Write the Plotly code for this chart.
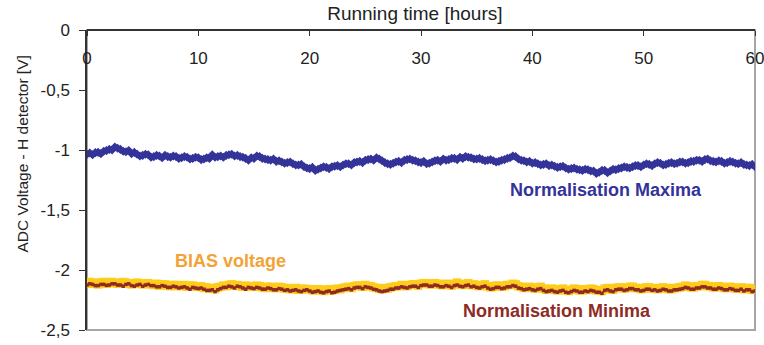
import plotly.graph_objects as go

# Sampling grid: one reading every quarter hour over the 60 h run
hours = [i * 0.25 for i in range(241)]

# Normalisation maxima (H detector, V), 20 readings per row = 5 h
maxima = [
    -1.035, -1.025, -1.040, -1.022, -1.020, -1.030, -1.010, -1.005, -0.995, -1.000,
    -0.975, -0.985, -0.995, -1.010, -1.015, -1.005, -1.030, -1.020, -1.035, -1.050,
    -1.045, -1.035, -1.040, -1.060, -1.055, -1.045, -1.050, -1.065, -1.045, -1.055,
    -1.060, -1.050, -1.055, -1.070, -1.065, -1.055, -1.060, -1.075, -1.070, -1.060,
    -1.065, -1.080, -1.075, -1.065, -1.070, -1.040, -1.060, -1.055, -1.050, -1.060,
    -1.045, -1.040, -1.035, -1.050, -1.045, -1.055, -1.060, -1.070, -1.085, -1.065,
    -1.070, -1.050, -1.055, -1.070, -1.075, -1.080, -1.085, -1.075, -1.095, -1.090,
    -1.100, -1.110, -1.105, -1.100, -1.115, -1.125, -1.125, -1.120, -1.140, -1.150,
    -1.155, -1.145, -1.170, -1.160, -1.150, -1.140, -1.145, -1.155, -1.140, -1.135,
    -1.130, -1.140, -1.125, -1.115, -1.115, -1.125, -1.105, -1.100, -1.095, -1.105,
    -1.085, -1.080, -1.075, -1.085, -1.065, -1.075, -1.090, -1.105, -1.115, -1.120,
    -1.110, -1.100, -1.095, -1.105, -1.085, -1.080, -1.075, -1.085, -1.090, -1.100,
    -1.105, -1.095, -1.115, -1.110, -1.100, -1.090, -1.085, -1.095, -1.075, -1.085,
    -1.080, -1.070, -1.070, -1.080, -1.060, -1.070, -1.055, -1.060, -1.065, -1.075,
    -1.075, -1.070, -1.080, -1.090, -1.085, -1.080, -1.090, -1.100, -1.095, -1.085,
    -1.080, -1.070, -1.065, -1.050, -1.055, -1.075, -1.085, -1.090, -1.100, -1.095,
    -1.110, -1.105, -1.115, -1.125, -1.120, -1.115, -1.130, -1.125, -1.135, -1.145,
    -1.140, -1.135, -1.150, -1.160, -1.155, -1.150, -1.160, -1.165, -1.170, -1.160,
    -1.165, -1.175, -1.175, -1.195, -1.185, -1.170, -1.170, -1.190, -1.175, -1.160,
    -1.165, -1.155, -1.150, -1.140, -1.145, -1.150, -1.140, -1.130, -1.130, -1.140,
    -1.125, -1.115, -1.120, -1.130, -1.115, -1.105, -1.110, -1.125, -1.120, -1.110,
    -1.105, -1.115, -1.110, -1.100, -1.100, -1.110, -1.105, -1.095, -1.095, -1.085,
    -1.085, -1.095, -1.080, -1.075, -1.090, -1.095, -1.100, -1.090, -1.095, -1.110,
    -1.105, -1.095, -1.100, -1.110, -1.115, -1.105, -1.120, -1.125, -1.130, -1.120,
    -1.140,
]

# Normalisation minima (V)
minima = [
    -2.125, -2.115, -2.120, -2.130, -2.130, -2.120, -2.120, -2.128, -2.125, -2.115,
    -2.115, -2.125, -2.125, -2.135, -2.120, -2.115, -2.130, -2.135, -2.125, -2.120,
    -2.135, -2.125, -2.120, -2.130, -2.130, -2.140, -2.140, -2.130, -2.135, -2.145,
    -2.145, -2.135, -2.140, -2.150, -2.145, -2.140, -2.150, -2.160, -2.145, -2.150,
    -2.155, -2.150, -2.160, -2.170, -2.170, -2.165, -2.180, -2.165, -2.155, -2.145,
    -2.145, -2.135, -2.140, -2.150, -2.135, -2.140, -2.150, -2.160, -2.145, -2.150,
    -2.155, -2.145, -2.150, -2.160, -2.160, -2.150, -2.155, -2.165, -2.165, -2.155,
    -2.160, -2.170, -2.165, -2.175, -2.170, -2.165, -2.175, -2.180, -2.170, -2.165,
    -2.175, -2.185, -2.180, -2.175, -2.185, -2.190, -2.180, -2.175, -2.190, -2.185,
    -2.175, -2.170, -2.165, -2.160, -2.155, -2.165, -2.150, -2.145, -2.145, -2.155,
    -2.140, -2.145, -2.150, -2.160, -2.165, -2.175, -2.180, -2.175, -2.170, -2.160,
    -2.160, -2.150, -2.150, -2.140, -2.145, -2.150, -2.140, -2.135, -2.135, -2.145,
    -2.130, -2.125, -2.125, -2.135, -2.135, -2.125, -2.130, -2.140, -2.140, -2.130,
    -2.135, -2.145, -2.130, -2.125, -2.135, -2.140, -2.130, -2.125, -2.140, -2.135,
    -2.145, -2.150, -2.140, -2.135, -2.150, -2.160, -2.155, -2.145, -2.145, -2.155,
    -2.150, -2.140, -2.140, -2.130, -2.135, -2.150, -2.155, -2.165, -2.160, -2.155,
    -2.165, -2.170, -2.160, -2.155, -2.170, -2.180, -2.175, -2.170, -2.180, -2.185,
    -2.175, -2.170, -2.185, -2.190, -2.180, -2.170, -2.175, -2.185, -2.185, -2.175,
    -2.180, -2.170, -2.175, -2.185, -2.185, -2.195, -2.170, -2.165, -2.175, -2.180,
    -2.165, -2.160, -2.160, -2.170, -2.165, -2.155, -2.155, -2.165, -2.165, -2.175,
    -2.170, -2.160, -2.160, -2.170, -2.165, -2.175, -2.170, -2.160, -2.165, -2.175,
    -2.175, -2.165, -2.165, -2.160, -2.155, -2.145, -2.150, -2.160, -2.160, -2.150,
    -2.150, -2.140, -2.140, -2.150, -2.150, -2.160, -2.160, -2.150, -2.155, -2.165,
    -2.165, -2.155, -2.160, -2.170, -2.170, -2.160, -2.175, -2.165, -2.165, -2.180,
    -2.175,
]

# BIAS voltage (V)
bias = [
    -2.110, -2.100, -2.115, -2.105, -2.120, -2.105, -2.100, -2.115, -2.110, -2.100,
    -2.105, -2.115, -2.110, -2.100, -2.105, -2.115, -2.120, -2.110, -2.105, -2.115,
    -2.120, -2.110, -2.110, -2.120, -2.125, -2.115, -2.130, -2.120, -2.120, -2.130,
    -2.135, -2.125, -2.125, -2.135, -2.130, -2.125, -2.140, -2.130, -2.130, -2.140,
    -2.140, -2.135, -2.150, -2.145, -2.155, -2.150, -2.160, -2.145, -2.140, -2.130,
    -2.135, -2.125, -2.120, -2.130, -2.125, -2.135, -2.140, -2.130, -2.135, -2.140,
    -2.140, -2.130, -2.135, -2.145, -2.150, -2.140, -2.140, -2.150, -2.150, -2.140,
    -2.145, -2.155, -2.150, -2.160, -2.160, -2.150, -2.165, -2.160, -2.155, -2.160,
    -2.160, -2.170, -2.170, -2.160, -2.165, -2.175, -2.165, -2.160, -2.170, -2.165,
    -2.155, -2.160, -2.150, -2.145, -2.140, -2.150, -2.135, -2.130, -2.130, -2.140,
    -2.125, -2.135, -2.135, -2.145, -2.150, -2.155, -2.160, -2.150, -2.155, -2.145,
    -2.140, -2.135, -2.135, -2.125, -2.130, -2.135, -2.125, -2.120, -2.120, -2.130,
    -2.115, -2.110, -2.110, -2.120, -2.120, -2.110, -2.115, -2.125, -2.125, -2.115,
    -2.120, -2.130, -2.115, -2.105, -2.120, -2.125, -2.115, -2.110, -2.125, -2.120,
    -2.130, -2.135, -2.125, -2.120, -2.135, -2.145, -2.140, -2.130, -2.130, -2.140,
    -2.135, -2.125, -2.125, -2.115, -2.120, -2.135, -2.140, -2.150, -2.145, -2.140,
    -2.150, -2.155, -2.145, -2.140, -2.155, -2.165, -2.160, -2.155, -2.165, -2.170,
    -2.160, -2.155, -2.170, -2.175, -2.165, -2.155, -2.160, -2.170, -2.170, -2.160,
    -2.165, -2.155, -2.160, -2.170, -2.170, -2.175, -2.155, -2.150, -2.160, -2.165,
    -2.150, -2.145, -2.145, -2.155, -2.150, -2.140, -2.140, -2.150, -2.150, -2.160,
    -2.155, -2.145, -2.145, -2.155, -2.150, -2.160, -2.155, -2.145, -2.150, -2.160,
    -2.160, -2.150, -2.150, -2.145, -2.140, -2.130, -2.135, -2.145, -2.145, -2.135,
    -2.135, -2.125, -2.125, -2.135, -2.135, -2.145, -2.145, -2.135, -2.140, -2.150,
    -2.150, -2.140, -2.145, -2.155, -2.155, -2.145, -2.160, -2.150, -2.150, -2.165,
    -2.160,
]

x_ticks = [0, 10, 20, 30, 40, 50, 60]
x_ticktext = ["0", "10", "20", "30", "40", "50", "60"]
y_ticks = [0, -0.5, -1, -1.5, -2, -2.5]
y_ticktext = ["0", "-0,5", "-1", "-1,5", "-2", "-2,5"]

BLUE = "#333399"
BROWN = "#8E2B24"
YELLOW = "#FFCC1A"
ORANGE = "#F4A236"
TEXT = "#222222"
FONT = "Liberation Sans, Arial, sans-serif"

fig = go.Figure()

fig.add_trace(go.Scatter(
    x=hours, y=bias, mode="lines+markers", name="BIAS voltage",
    line=dict(color=YELLOW, width=7),
    marker=dict(symbol="square", size=8.5, color=YELLOW),
))
fig.add_trace(go.Scatter(
    x=hours, y=minima, mode="lines+markers", name="Normalisation Minima",
    line=dict(color=BROWN, width=1.8),
    marker=dict(symbol="square", size=3.5, color=BROWN),
))
fig.add_trace(go.Scatter(
    x=hours, y=maxima, mode="lines+markers", name="Normalisation Maxima",
    line=dict(color=BLUE, width=2.5),
    marker=dict(symbol="diamond", size=7, color=BLUE),
))

# Series labels
fig.add_annotation(x=46.6, y=-1.333, text="<b>Normalisation Maxima</b>", showarrow=False,
                   font=dict(family=FONT, size=18, color=BLUE))
fig.add_annotation(x=12.9, y=-1.925, text="<b>BIAS voltage</b>", showarrow=False,
                   font=dict(family=FONT, size=18, color=ORANGE))
fig.add_annotation(x=42.2, y=-2.342, text="<b>Normalisation Minima</b>", showarrow=False,
                   font=dict(family=FONT, size=18, color=BROWN))

# Vertical axis title
fig.add_annotation(xref="paper", yref="paper", x=-0.096, y=0.588,
                   xanchor="center", yanchor="middle",
                   text="ADC Voltage - H detector [V]", textangle=-90, showarrow=False,
                   font=dict(family=FONT, size=15.5, color=TEXT))

# Plot-area frame (grey right and bottom edges)
fig.add_shape(type="rect", xref="paper", yref="paper", x0=0, y0=0, x1=1, y1=1,
              line=dict(color="#A6A6A6", width=2), layer="below")

fig.update_layout(
    width=764, height=345,
    margin=dict(l=87, r=9, t=30, b=15, autoexpand=False),
    paper_bgcolor="white", plot_bgcolor="white",
    showlegend=False,
    font=dict(family=FONT, size=17, color=TEXT),
    title=dict(text="Running time [hours]", x=0.543, xref="container", xanchor="center",
               y=0.962, yref="container", yanchor="middle",
               font=dict(family=FONT, size=19, color=TEXT)),
    xaxis=dict(
        range=[0, 60], tickvals=x_ticks, ticktext=x_ticktext,
        anchor="free", position=1, side="bottom",
        showline=True, linecolor="#333333", linewidth=1.5,
        ticks="outside", ticklen=5, tickcolor="#333333", tickwidth=1,
        ticklabelstandoff=8, ticklabeloverflow="allow",
        showgrid=False, zeroline=False,
        tickfont=dict(family=FONT, size=17, color=TEXT),
    ),
    yaxis=dict(
        range=[-2.5, 0], tickvals=y_ticks, ticktext=y_ticktext,
        showline=True, linecolor="#333333", linewidth=1.5,
        ticks="outside", ticklen=6, tickcolor="#333333", tickwidth=1,
        ticklabelstandoff=6,
        showgrid=False, zeroline=False,
        tickfont=dict(family=FONT, size=17, color=TEXT),
    ),
)

fig.write_html("out.html")
